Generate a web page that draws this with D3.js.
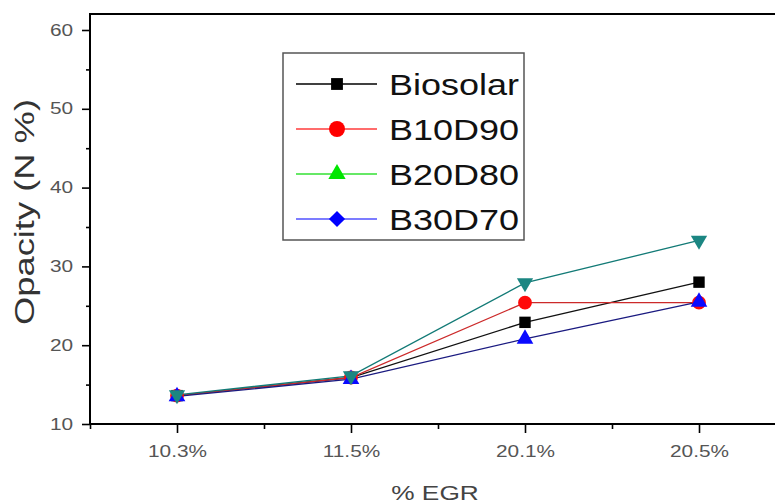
<!DOCTYPE html>
<html>
<head>
<meta charset="utf-8">
<script src="https://cdn.jsdelivr.net/npm/d3@7"></script>
<style>
  body { margin: 0; background: #fff; }
  svg { display: block; font-family: Arial, "Liberation Sans", sans-serif; }
</style>
</head>
<body>
<div id="chart"></div>
<script>
// values
const categories = ['10.3%', '11.5%', '20.1%', '20.5%']
const seriesNames = ['Biosolar', 'B10D90', 'B20D80', 'B30D70']
const biosolar = [13.6, 15.9, 22.9, 28.0]
const b10d90 = [13.6, 15.9, 25.4, 25.4]
const b20d80 = [13.7, 16.1, 27.9, 33.3]
const b30d70 = [13.5, 15.7, 20.8, 25.5]
const yTicks = [10, 20, 30, 40, 50, 60]
const yMinor = [15, 25, 35, 45, 55]

const W = 775, H = 504
const M = { left: 90, top: 14, right: 786, bottom: 424 }

const svg = d3.select('#chart').append('svg')
    .attr('width', W)
    .attr('height', H)

const x = d3.scalePoint().domain(categories).range([M.left, M.right]).padding(0.5)
const xi = d3.scaleLinear().domain([-0.5, categories.length - 0.5]).range([M.left, M.right])
const y = d3.scaleLinear().domain([10, 60]).range([M.bottom, 30])

// stretch text horizontally, the source looks widened
function stretch(sel, k) {
    sel.each(function () {
        const len = this.getComputedTextLength()
        d3.select(this).attr('textLength', len * k).attr('lengthAdjust', 'spacingAndGlyphs')
    })
}

// frame
svg.append('rect')
    .attr('x', M.left).attr('y', M.top)
    .attr('width', M.right - M.left).attr('height', M.bottom - M.top)
    .attr('fill', 'none').attr('stroke', '#000').attr('stroke-width', 2)

// y axis
const gy = svg.append('g').attr('transform', `translate(${M.left},0)`)
    .call(d3.axisLeft(y).tickValues(yTicks).tickSize(8).tickPadding(9))
gy.select('.domain').remove()
gy.selectAll('line').attr('stroke', '#000').attr('stroke-width', 1.6)
gy.selectAll('text').attr('fill', '#555').attr('font-size', 16).call(stretch, 1.3)

const gy2 = svg.append('g').attr('transform', `translate(${M.left},0)`)
    .call(d3.axisLeft(y).tickValues(yMinor).tickSize(4).tickFormat(''))
gy2.select('.domain').remove()
gy2.selectAll('line').attr('stroke', '#000').attr('stroke-width', 1.6)

// x axis
const gx = svg.append('g').attr('transform', `translate(0,${M.bottom})`)
    .call(d3.axisBottom(x).tickSize(9).tickPadding(13))
gx.select('.domain').remove()
gx.selectAll('line').attr('stroke', '#000').attr('stroke-width', 1.6)
gx.selectAll('text').attr('fill', '#555').attr('font-size', 16).call(stretch, 1.3)

const gx2 = svg.append('g').attr('transform', `translate(0,${M.bottom})`)
    .call(d3.axisBottom(xi).tickValues([-0.5, 0.5, 1.5, 2.5]).tickSize(5).tickFormat(''))
gx2.select('.domain').remove()
gx2.selectAll('line').attr('stroke', '#000').attr('stroke-width', 1.6)

// axis titles
svg.append('text')
    .attr('x', (M.left + M.right) / 2 - 3).attr('y', 500)
    .attr('text-anchor', 'middle')
    .attr('font-size', 21).attr('fill', '#444')
    .text('% EGR').call(stretch, 1.25)

svg.append('text')
    .attr('transform', 'translate(34,212) rotate(-90)')
    .attr('text-anchor', 'middle')
    .attr('font-size', 27).attr('fill', '#333')
    .attr('textLength', 226).attr('lengthAdjust', 'spacingAndGlyphs')
    .text('Opacity (N %)')

// series, drawn in this order so the teal markers sit on top
const plotSeries = [
    { name: seriesNames[0], values: biosolar, line: '#111', fill: '#000', symbol: d3.symbolSquare, size: 130, rot: 0 },
    { name: seriesNames[1], values: b10d90, line: '#cc2a2a', fill: '#ff0a0a', symbol: d3.symbolCircle, size: 150, rot: 0 },
    { name: seriesNames[3], values: b30d70, line: '#1a1a80', fill: '#0a0aff', symbol: d3.symbolTriangle, size: 120, rot: 0 },
    { name: seriesNames[2], values: b20d80, line: '#127a76', fill: '#1b8682', symbol: d3.symbolTriangle, size: 115, rot: 180 }
]

const line = d3.line().x((d, i) => x(categories[i])).y(d => y(d))

svg.selectAll('path.series').data(plotSeries).enter()
    .append('path')
    .attr('class', 'series')
    .attr('d', d => line(d.values))
    .attr('fill', 'none')
    .attr('stroke', d => d.line)
    .attr('stroke-width', 1.3)

plotSeries.forEach(s => {
    svg.selectAll(null).data(s.values).enter()
        .append('path')
        .attr('d', d3.symbol(s.symbol, s.size))
        .attr('transform', (d, i) => `translate(${x(categories[i])},${y(d)}) rotate(${s.rot})`)
        .attr('fill', s.fill)
})

// legend (symbols differ from the plotted ones, as in the source)
const legendStyles = [
    { line: '#000', fill: '#000', symbol: d3.symbolSquare, size: 140, rot: 0 },
    { line: '#ff3b3b', fill: '#ff0000', symbol: d3.symbolCircle, size: 200, rot: 0 },
    { line: '#33e033', fill: '#00e600', symbol: d3.symbolTriangle, size: 130, rot: 0 },
    { line: '#5050ff', fill: '#0000ff', symbol: d3.symbolSquare, size: 130, rot: 45 }
]

const lg = svg.append('g')
lg.append('rect')
    .attr('x', 283).attr('y', 53).attr('width', 241).attr('height', 187)
    .attr('fill', '#fff').attr('stroke', '#555').attr('stroke-width', 1.5)

const rows = lg.selectAll('g.row').data(seriesNames).enter()
    .append('g')
    .attr('transform', (d, i) => `translate(0,${84 + i * 45})`)

rows.append('line')
    .attr('x1', 296).attr('x2', 377)
    .attr('stroke', (d, i) => legendStyles[i].line)
    .attr('stroke-width', 1.5)

rows.append('path')
    .attr('transform', (d, i) => `translate(337,0) rotate(${legendStyles[i].rot})`)
    .attr('d', (d, i) => d3.symbol(legendStyles[i].symbol, legendStyles[i].size)())
    .attr('fill', (d, i) => legendStyles[i].fill)

rows.append('text')
    .attr('x', 389).attr('y', 11)
    .attr('font-size', 30).attr('fill', '#111')
    .text(d => d)
    .call(stretch, 1.2)
</script>
</body>
</html>
